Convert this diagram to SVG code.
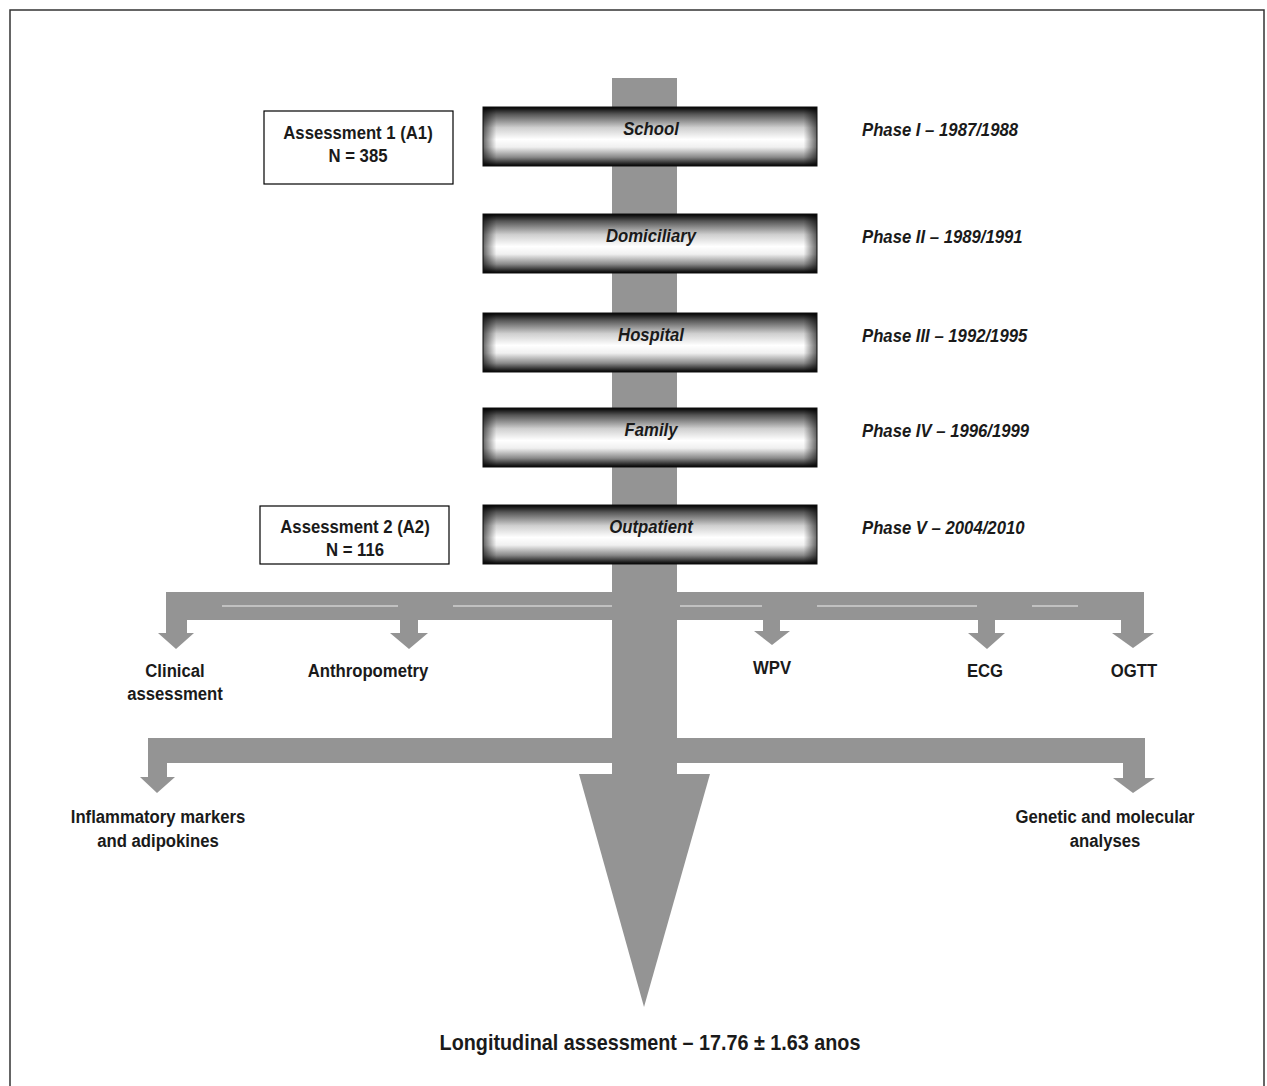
<svg xmlns="http://www.w3.org/2000/svg" width="1267" height="1086" viewBox="0 0 1267 1086">
<style>
.t{font-family:"Liberation Sans",Arial,sans-serif;font-weight:bold;fill:#1a1a1a}
.lab{font-size:19px;text-anchor:middle}
.box{font-size:19px;font-style:italic;text-anchor:middle}
.ph{font-size:19px;font-style:italic}
.g{fill:#949494}
.wl{stroke:#d0d0d0;stroke-width:1.5}
.frame{fill:#fff;stroke:#000;stroke-width:1.2}
</style>
<defs>
<linearGradient id="gv" x1="0" y1="0" x2="0" y2="1">
<stop offset="0" stop-color="#000"/>
<stop offset="0.12" stop-color="#555"/>
<stop offset="0.35" stop-color="#cfcfcf"/>
<stop offset="0.55" stop-color="#ffffff"/>
<stop offset="0.68" stop-color="#f0f0f0"/>
<stop offset="0.85" stop-color="#8a8a8a"/>
<stop offset="1" stop-color="#000"/>
</linearGradient>
<linearGradient id="gh" x1="0" y1="0" x2="1" y2="0">
<stop offset="0" stop-color="#000" stop-opacity="0.6"/>
<stop offset="0.04" stop-color="#000" stop-opacity="0"/>
<stop offset="0.96" stop-color="#000" stop-opacity="0"/>
<stop offset="1" stop-color="#000" stop-opacity="0.6"/>
</linearGradient>
</defs>
<rect width="1267" height="1086" fill="#fff"/>
<rect x="10" y="10" width="1254" height="1090" fill="none" stroke="#333" stroke-width="1.5"/>

<g id="connectors">
<rect class="g" x="612" y="78" width="65" height="700"/>
<polygon class="g" points="579,774 710,774 644,1007"/>
<rect class="g" x="166" y="592" width="978" height="28"/>
<line class="wl" x1="222" y1="606" x2="398" y2="606"/>
<line class="wl" x1="453" y1="606" x2="612" y2="606"/>
<line class="wl" x1="680" y1="606" x2="762" y2="606"/>
<line class="wl" x1="817" y1="606" x2="977" y2="606"/>
<line class="wl" x1="1032" y1="606" x2="1078" y2="606"/>
<rect class="g" x="166" y="618" width="21" height="16"/>
<polygon class="g" points="158,633 194,633 176,649"/>
<rect class="g" x="400" y="618" width="18" height="16"/>
<polygon class="g" points="390,633 428,633 409,649"/>
<rect class="g" x="763" y="618" width="17" height="14"/>
<polygon class="g" points="754,631 790,631 772,645"/>
<rect class="g" x="978" y="618" width="17" height="16"/>
<polygon class="g" points="968,633 1005,633 987,649"/>
<rect class="g" x="1121" y="618" width="23" height="16"/>
<polygon class="g" points="1112,633 1154,633 1133,648"/>
<rect class="g" x="148" y="738" width="997" height="25"/>
<rect class="g" x="148" y="761" width="19" height="17"/>
<polygon class="g" points="140,777 175,777 157,793"/>
<rect class="g" x="1123" y="761" width="22" height="18"/>
<polygon class="g" points="1113,778 1155,778 1133,793"/>
</g>

<g id="school">
<rect x="483" y="107" width="334" height="59" fill="url(#gv)"/>
<rect x="483" y="107" width="334" height="59" fill="url(#gh)" stroke="#111" stroke-width="1"/>
<text class="t box" transform="translate(651,135) scale(0.88,1)">School</text>
</g>
<g id="domiciliary">
<rect x="483" y="214" width="334" height="59" fill="url(#gv)"/>
<rect x="483" y="214" width="334" height="59" fill="url(#gh)" stroke="#111" stroke-width="1"/>
<text class="t box" transform="translate(651,242) scale(0.88,1)">Domiciliary</text>
</g>
<g id="hospital">
<rect x="483" y="313" width="334" height="59" fill="url(#gv)"/>
<rect x="483" y="313" width="334" height="59" fill="url(#gh)" stroke="#111" stroke-width="1"/>
<text class="t box" transform="translate(651,341) scale(0.88,1)">Hospital</text>
</g>
<g id="family">
<rect x="483" y="408" width="334" height="59" fill="url(#gv)"/>
<rect x="483" y="408" width="334" height="59" fill="url(#gh)" stroke="#111" stroke-width="1"/>
<text class="t box" transform="translate(651,436) scale(0.88,1)">Family</text>
</g>
<g id="outpatient">
<rect x="483" y="505" width="334" height="59" fill="url(#gv)"/>
<rect x="483" y="505" width="334" height="59" fill="url(#gh)" stroke="#111" stroke-width="1"/>
<text class="t box" transform="translate(651,533) scale(0.88,1)">Outpatient</text>
</g>

<g id="a1">
<rect class="frame" x="264" y="111" width="189" height="73"/>
<text class="t lab" transform="translate(358,139) scale(0.88,1)">Assessment 1 (A1)</text>
<text class="t lab" transform="translate(358,162) scale(0.88,1)">N = 385</text>
</g>
<g id="a2">
<rect class="frame" x="260" y="506" width="189" height="58"/>
<text class="t lab" transform="translate(355,533) scale(0.88,1)">Assessment 2 (A2)</text>
<text class="t lab" transform="translate(355,556) scale(0.88,1)">N = 116</text>
</g>

<g id="phases">
<text class="t ph" transform="translate(862,136) scale(0.88,1)">Phase I – 1987/1988</text>
<text class="t ph" transform="translate(862,243) scale(0.88,1)">Phase II – 1989/1991</text>
<text class="t ph" transform="translate(862,342) scale(0.88,1)">Phase III – 1992/1995</text>
<text class="t ph" transform="translate(862,437) scale(0.88,1)">Phase IV – 1996/1999</text>
<text class="t ph" transform="translate(862,534) scale(0.88,1)">Phase V – 2004/2010</text>
</g>

<g id="outcomes">
<text class="t lab" transform="translate(175,677) scale(0.88,1)">Clinical</text>
<text class="t lab" transform="translate(175,700) scale(0.88,1)">assessment</text>
<text class="t lab" transform="translate(368,677) scale(0.88,1)">Anthropometry</text>
<text class="t lab" transform="translate(772,674) scale(0.88,1)">WPV</text>
<text class="t lab" transform="translate(985,677) scale(0.88,1)">ECG</text>
<text class="t lab" transform="translate(1134,677) scale(0.88,1)">OGTT</text>
<text class="t lab" transform="translate(158,823) scale(0.88,1)">Inflammatory markers</text>
<text class="t lab" transform="translate(158,847) scale(0.88,1)">and adipokines</text>
<text class="t lab" transform="translate(1105,823) scale(0.88,1)">Genetic and molecular</text>
<text class="t lab" transform="translate(1105,847) scale(0.88,1)">analyses</text>
</g>
<g id="footer">
<text class="t" font-size="22" text-anchor="middle" transform="translate(650,1050) scale(0.9,1)">Longitudinal assessment – 17.76 ± 1.63 anos</text>
</g>
</svg>
